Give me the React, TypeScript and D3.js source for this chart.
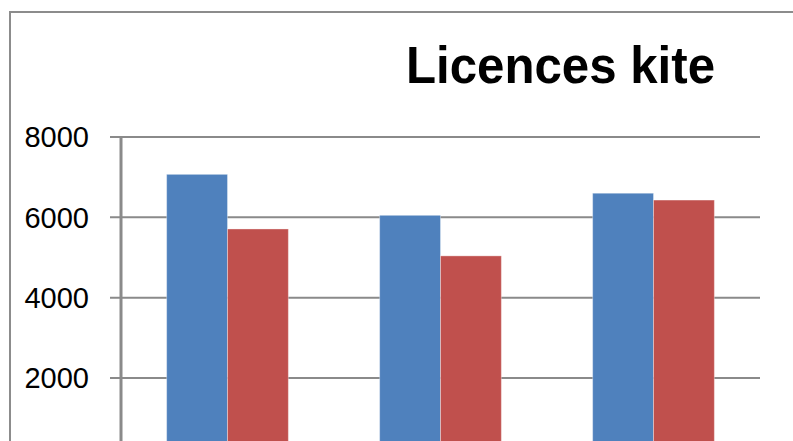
import { useEffect, useRef } from 'react'
import * as d3 from 'd3'

const categories = ['Cat 1', 'Cat 2', 'Cat 3']
const seriesNames = ['Series 1', 'Series 2']
const series1 = [7070, 6050, 6600]
const series2 = [5710, 5040, 6430]
const yTicks = [2000, 4000, 6000, 8000]
const title = 'Licences kite'

const colors = ['#4F81BD', '#C0504D']

export default function App() {
  const svgRef = useRef<SVGSVGElement>(null)

  useEffect(() => {
    if (!svgRef.current) return
    const width = 793
    const height = 441

    const svg = d3.select(svgRef.current)
    svg.selectAll('*').remove()
    svg.attr('width', width).attr('height', height)

    const plot = { left: 121, right: 760, top: 137, bottom: 458.3 }

    const yScale = d3.scaleLinear().domain([0, 8000]).range([plot.bottom, plot.top])
    const xScale = d3.scaleBand<string>()
      .domain(categories)
      .range([plot.left, plot.right])
      .paddingInner(1.5 / 3.5)
      .paddingOuter(0.75 / 3.5)
    const xInner = d3.scaleBand<string>().domain(seriesNames).range([0, xScale.bandwidth()])

    // Chart border
    svg.append('rect')
      .attr('x', 10).attr('y', 12)
      .attr('width', width + 20).attr('height', height + 20)
      .attr('fill', 'none').attr('stroke', '#8c8c8c').attr('stroke-width', 2)

    // Title
    svg.append('text')
      .attr('x', 406).attr('y', 83)
      .attr('font-family', 'Liberation Sans, Arial, sans-serif')
      .attr('font-weight', 'bold').attr('font-size', 52)
      .attr('textLength', 309).attr('lengthAdjust', 'spacingAndGlyphs')
      .attr('fill', '#000')
      .text(title)

    // Gridlines + ticks
    const grid = svg.append('g')
    grid.selectAll('line')
      .data(yTicks)
      .join('line')
      .attr('x1', plot.left - 11).attr('x2', plot.right)
      .attr('y1', d => yScale(d)).attr('y2', d => yScale(d))
      .attr('stroke', '#8a8a8a').attr('stroke-width', 2)

    svg.append('g').selectAll('text')
      .data(yTicks)
      .join('text')
      .attr('x', 89).attr('y', d => yScale(d))
      .attr('dy', '0.36em')
      .attr('text-anchor', 'end')
      .attr('font-family', 'Liberation Sans, Arial, sans-serif')
      .attr('font-size', 29)
      .attr('fill', '#000')
      .text(d => String(d))

    // Bars
    const data = [series1, series2]
    const bars = svg.append('g')
    categories.forEach((c, ci) => {
      seriesNames.forEach((s, si) => {
        const v = data[si][ci]
        bars.append('rect')
          .attr('x', (xScale(c) ?? 0) + (xInner(s) ?? 0))
          .attr('y', yScale(v))
          .attr('width', xInner.bandwidth())
          .attr('height', yScale(0) - yScale(v))
          .attr('fill', colors[si])
          .attr('stroke', 'rgba(255,255,255,0.35)')
          .attr('stroke-width', 1)
      })
    })

    // Y axis line
    svg.append('line')
      .attr('x1', plot.left).attr('x2', plot.left)
      .attr('y1', plot.top - 1).attr('y2', height + 10)
      .attr('stroke', '#8a8a8a').attr('stroke-width', 3)
  }, [])

  return (
    <div style={{ position: 'absolute', left: 0, top: 0, width: 793, height: 441, background: '#fff' }}>
      <svg ref={svgRef} style={{ display: 'block' }} />
    </div>
  )
}
